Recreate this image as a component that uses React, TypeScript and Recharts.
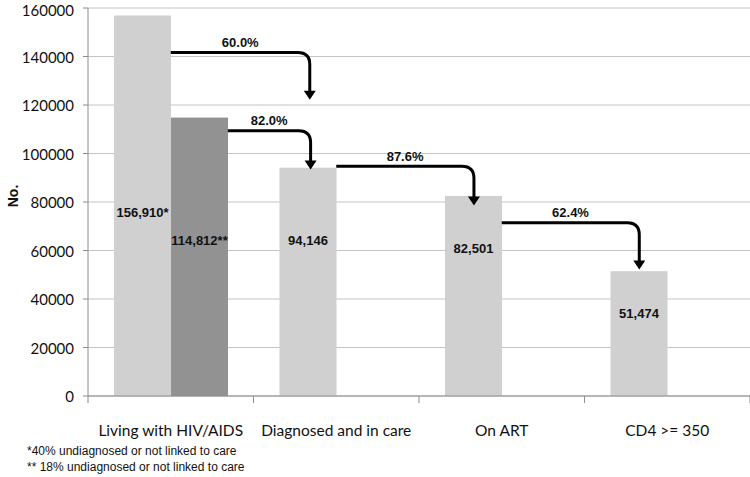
import { BarChart, Bar, XAxis, YAxis, CartesianGrid, ReferenceLine } from 'recharts'

const categories = ['Living with HIV/AIDS', 'Diagnosed and in care', 'On ART', 'CD4 >= 350']
const primaryValues = [156910, 94146, 82501, 51474]
const secondaryValues = [114812, null, null, null]
const primaryLabels = ['156,910*', '94,146', '82,501', '51,474']
const secondaryLabels = ['114,812**', '', '', '']
const yTicks = [0, 20000, 40000, 60000, 80000, 100000, 120000, 140000, 160000]

// step arrows: from category -> next category; x in category units (0..4), y in data units
const arrowPct = ['60.0%', '82.0%', '87.6%', '62.4%']
const arrowFromCat = [0, 0, 1, 2]
const arrowFromX = [0.5, 0.845, 1.5, 2.5]
const arrowToX = [1.34, 1.345, 2.332, 3.331]
const arrowLevel = [141600, 109400, 94700, 71400]
const arrowTip = [122150, 93400, 78600, 52200]

const footnotes = ['*40% undiagnosed or not linked to care', '** 18% undiagnosed or not linked to care']

// where the value label sits inside each bar (fraction of bar height from top)
const PRIMARY_LABEL_POS = [0.518, 0.319, 0.262, 0.336]
const SECONDARY_LABEL_POS = [0.441, 0, 0, 0]

const LIGHT = '#d0d0d0'
const DARK = '#929292'
const AXIS = '#8c8c8c'
const GRID = '#c4c4c4'

const data = categories.map((name, i) => ({
  name,
  primary: primaryValues[i],
  secondary: secondaryValues[i],
}))

function ArrowShape(props: any) {
  const { x1, y1, x2, y2, i } = props
  // x1/x2 are centres of two neighbouring categories
  const step = x2 - x1
  const base = x1 - (arrowFromCat[i] + 0.5) * step
  const sx = base + arrowFromX[i] * step
  const ex = base + arrowToX[i] * step
  const r = 12
  const headH = 9
  const headW = 6
  const d = `M${sx},${y1} H${ex - r} Q${ex},${y1} ${ex},${y1 + r} V${y2 - headH + 1}`
  return (
    <g>
      <path d={d} fill="none" stroke="#000" strokeWidth={3} />
      <polygon points={`${ex - headW},${y2 - headH} ${ex + headW},${y2 - headH} ${ex},${y2}`} fill="#000" />
      <text
        x={(sx + ex) / 2}
        y={y1 - 10}
        textAnchor="middle"
        dominantBaseline="central"
        fontFamily="Liberation Sans, Arial"
        fontWeight="bold"
        fontSize={13}
        fill="#111"
      >
        {arrowPct[i]}
      </text>
    </g>
  )
}

function barShape(color: string, labels: string[], pos: number[]) {
  return (props: any) => {
    const { x, y, width, height, index } = props
    const text = labels[index]
    if (!height) return <g />
    return (
      <g>
        <rect x={x} y={y} width={width} height={height} fill={color} />
        {text && (
          <text
            x={x + width / 2}
            y={y + height * pos[index]}
            textAnchor="middle"
            dominantBaseline="central"
            fontFamily="Liberation Sans, Arial"
            fontWeight="bold"
            fontSize={13}
            fill="#111"
          >
            {text}
          </text>
        )}
      </g>
    )
  }
}

function CategoryTick(props: any) {
  const { x, y, payload, index } = props
  const half = payload?.offset || 82.75
  return (
    <g>
      <line x1={x - half} x2={x - half} y1={y} y2={y + 7} stroke={AXIS} />
      {index === categories.length - 1 && (
        <line x1={x + half} x2={x + half} y1={y} y2={y + 7} stroke={AXIS} />
      )}
      <text x={x} y={y + 40} textAnchor="middle" fontFamily="Lato" fontSize={15.5} fill="#111">
        {payload.value}
      </text>
    </g>
  )
}

function ValueTick(props: any) {
  const { x, y, payload } = props
  return (
    <text
      x={x}
      y={Math.max(y, 10)}
      textAnchor="end"
      dominantBaseline="central"
      fontFamily="Lato"
      fontSize={15}
      fill="#111"
    >
      {payload.value}
    </text>
  )
}

function YLabel(props: any) {
  const { viewBox } = props
  const cx = 13
  const cy = viewBox.y + viewBox.height / 2 - 6
  return (
    <text
      x={cx}
      y={cy}
      transform={`rotate(-90, ${cx}, ${cy})`}
      textAnchor="middle"
      dominantBaseline="central"
      fontFamily="Liberation Sans, Arial"
      fontWeight="bold"
      fontSize={14}
      fill="#111"
    >
      No.
    </text>
  )
}

export default function App() {
  return (
    <div style={{ position: 'absolute', left: 0, top: 0, width: 750, height: 477, background: '#fff' }}>
      <BarChart
        width={750}
        height={477}
        data={data}
        margin={{ top: 8, right: 0, bottom: 41, left: 0 }}
        barGap={0}
        barSize={57}
      >
        <CartesianGrid vertical={false} stroke={GRID} />
        <XAxis
          dataKey="name"
          height={40}
          interval={0}
          tickLine={false}
          tickSize={0}
          tickMargin={0}
          axisLine={{ stroke: AXIS }}
          tick={<CategoryTick />}
        />
        <YAxis
          width={88}
          domain={[0, 160000]}
          ticks={yTicks}
          interval={0}
          tickSize={5}
          tickMargin={9}
          axisLine={{ stroke: AXIS }}
          tickLine={{ stroke: AXIS }}
          tick={<ValueTick />}
          label={<YLabel />}
        />
        <Bar
          dataKey="primary"
          fill={LIGHT}
          isAnimationActive={false}
          shape={barShape(LIGHT, primaryLabels, PRIMARY_LABEL_POS)}
        />
        <Bar
          dataKey="secondary"
          fill={DARK}
          isAnimationActive={false}
          shape={barShape(DARK, secondaryLabels, SECONDARY_LABEL_POS)}
        />
        {arrowPct.map((pct, i) => (
          <ReferenceLine
            key={pct}
            ifOverflow="visible"
            segment={[
              { x: categories[arrowFromCat[i]], y: arrowLevel[i] },
              { x: categories[arrowFromCat[i] + 1], y: arrowTip[i] },
            ]}
            shape={(p: any) => <ArrowShape {...p} i={i} />}
          />
        ))}
      </BarChart>
      {footnotes.map((t, i) => (
        <div
          key={t}
          style={{
            position: 'absolute',
            left: 27,
            top: 443 + i * 16,
            lineHeight: '16px',
            fontSize: 12,
            fontFamily: 'Liberation Sans, Arial',
            color: '#111',
            whiteSpace: 'nowrap',
          }}
        >
          {t}
        </div>
      ))}
    </div>
  )
}
